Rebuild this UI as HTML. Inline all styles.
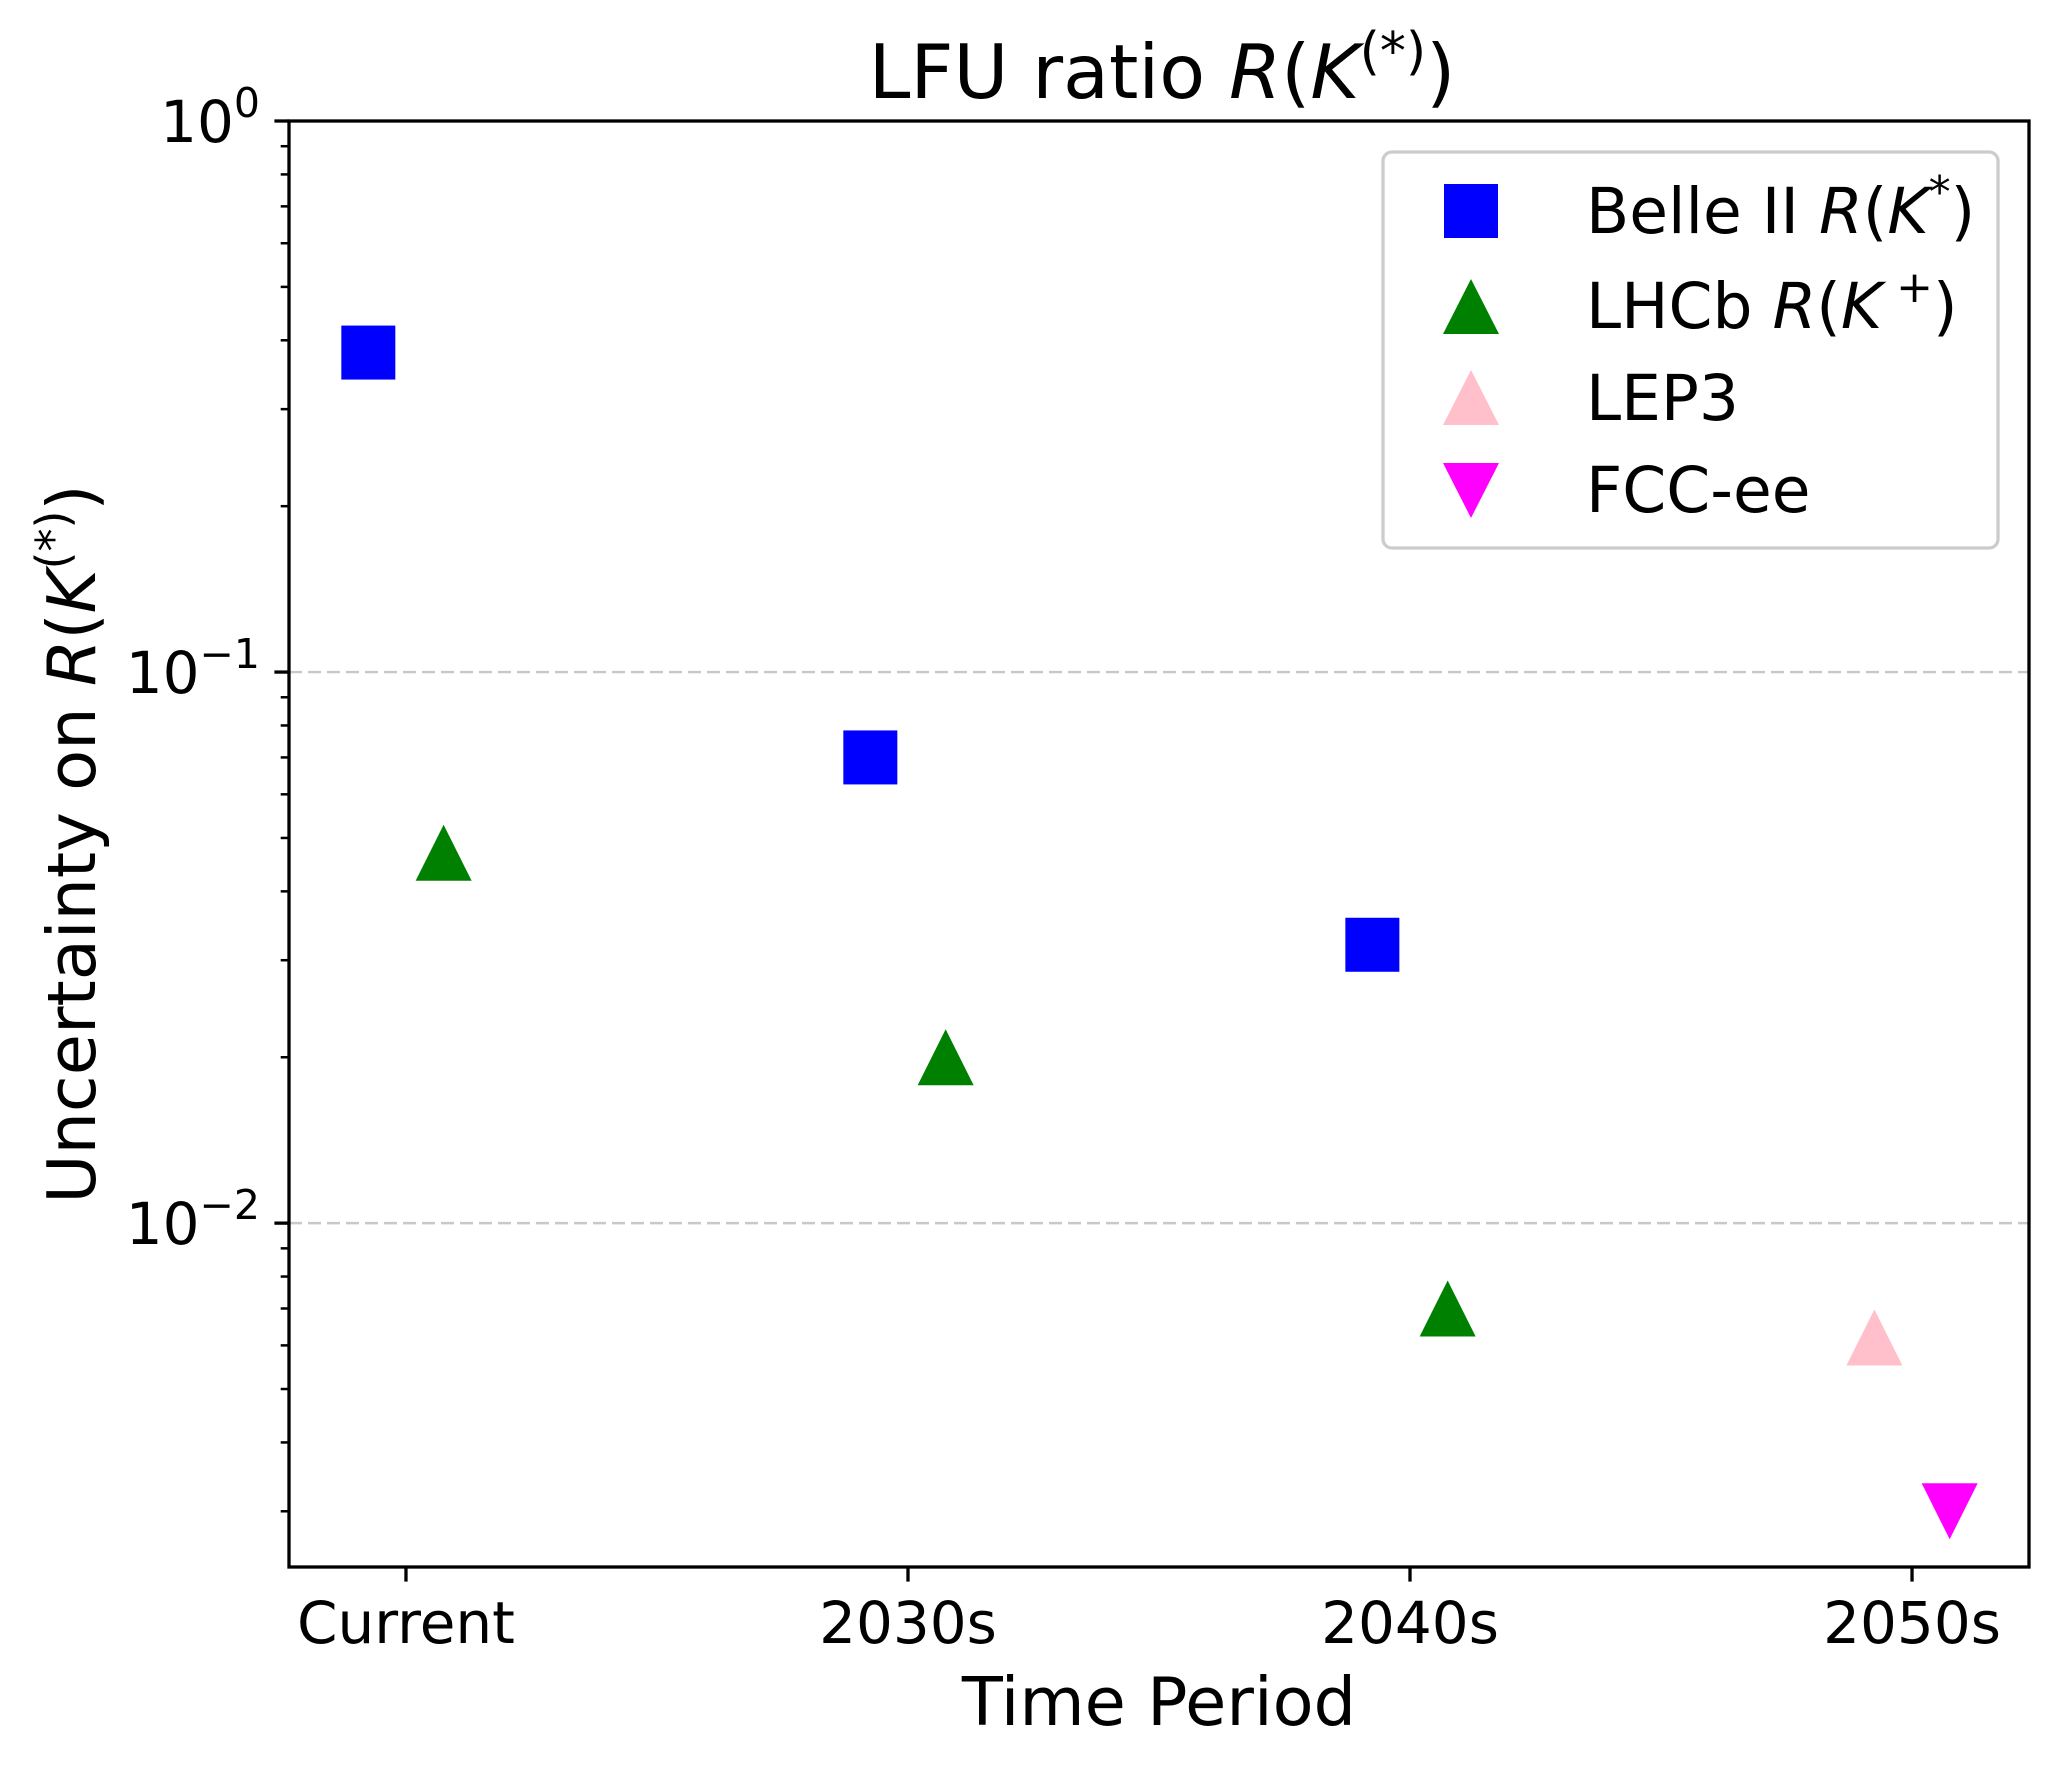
<!DOCTYPE html>
<html><head><meta charset="utf-8"><style>
html,body{margin:0;padding:0;background:#fff;}
svg{display:block;font-family:"DejaVu Sans","Liberation Sans",sans-serif;}
</style></head><body>
<svg id="chart" width="2058" height="1766" viewBox="0 0 2058 1766" xmlns="http://www.w3.org/2000/svg">
<rect x="0" y="0" width="2058" height="1766" fill="#fff"/>
<text x="1162" y="98" font-size="75" text-anchor="middle">LFU ratio <tspan font-style="italic">R</tspan>(<tspan font-style="italic">K</tspan><tspan font-size="52" dy="-29">(*)</tspan><tspan dy="29">)</tspan></text>
<g id="grid"></g>
<g id="marks"></g>
<rect x="289" y="121" width="1740" height="1446" fill="none" stroke="#000" stroke-width="3.3"/>
<g id="ticks"></g>
<text x="1159" y="1725" font-size="67" text-anchor="middle">Time Period</text>
<text transform="translate(95,844) rotate(-90)" font-size="67" text-anchor="middle">Uncertainty on <tspan font-style="italic">R</tspan>(<tspan font-style="italic">K</tspan><tspan font-size="46" dy="-26">(*)</tspan><tspan dy="26">)</tspan></text>
<g>
<rect x="1383" y="152" width="615" height="396" rx="9" fill="#fff" fill-opacity="0.8" stroke="#cccccc" stroke-width="3.3"/>
<rect x="1444" y="184" width="54" height="54" fill="#0000ff"/>
<text x="1586" y="233" font-size="63">Belle II <tspan font-style="italic">R</tspan>(<tspan font-style="italic">K</tspan><tspan font-size="44" dy="-26">*</tspan><tspan dy="26">)</tspan></text>
<polygon points="1471,279 1499,334 1443,334" fill="#008000"/>
<text x="1586" y="328" font-size="63">LHCb <tspan font-style="italic">R</tspan>(<tspan font-style="italic">K</tspan><tspan font-size="44" dy="-26"> +</tspan><tspan dy="26">)</tspan></text>
<polygon points="1471,370 1499,425 1443,425" fill="#ffc0cb"/>
<text x="1586" y="420" font-size="63">LEP3</text>
<polygon points="1443,463 1499,463 1471,518" fill="#ff00ff"/>
<text x="1586" y="512" font-size="63">FCC-ee</text>
</g>
</svg>
<script>
const categories = ["Current", "2030s", "2040s", "2050s"];
const belleValues = [0.38, 0.070, 0.032, null];
const lhcbValues = [0.047, 0.020, 0.007, null];
const lep3Values = [null, null, null, 0.0062];
const fccValues = [null, null, null, 0.003];
const yTickExponents = ["0", "\u22121", "\u22122"];

const NS = "http://www.w3.org/2000/svg";
const L = 289, R = 2029, T = 121, B = 1567;
const xmin = -0.233, xmax = 3.233;
const ymaxLog = 0, yminLog = -2.624;
function xs(v){ return L + (v - xmin) / (xmax - xmin) * (R - L); }
function ys(v){ return T + (ymaxLog - Math.log10(v)) / (ymaxLog - yminLog) * (B - T); }
function mk(tag, attrs, parent){ const e = document.createElementNS(NS, tag); for (const k in attrs) e.setAttribute(k, attrs[k]); parent.appendChild(e); return e; }

const grid = document.getElementById('grid');
const ticks = document.getElementById('ticks');
const marks = document.getElementById('marks');

for (let i = 0; i < yTickExponents.length; i++) {
  const v = Math.pow(10, -i);
  const y = ys(v);
  if (i > 0) {
    const g = mk('line', {x1: L, x2: R, y1: y, y2: y, stroke: '#c8c8c8', 'stroke-width': 2.4, 'stroke-dasharray': '13 6'}, grid);
    
    
  }
  const t = mk('line', {x1: L - 14.6, x2: L, y1: y, y2: y, stroke: '#000', 'stroke-width': 3.3}, ticks);
  
  
  const lab = mk('text', {x: L - 29, y: y + 21, 'font-size': 58, 'text-anchor': 'end'}, ticks);
  
  
  const base = document.createElementNS(NS, 'tspan'); base.textContent = '10'; lab.appendChild(base);
  const sup = document.createElementNS(NS, 'tspan'); sup.setAttribute('font-size', 41); sup.setAttribute('dy', -25); sup.textContent = yTickExponents[i]; lab.appendChild(sup);
}
for (let d = -3; d <= 0; d++) {
  for (let m = 2; m <= 9; m++) {
    const v = m * Math.pow(10, d);
    if (Math.log10(v) < yminLog || Math.log10(v) > ymaxLog) continue;
    const y = ys(v);
    const t = mk('line', {x1: L - 8.3, x2: L, y1: y, y2: y, stroke: '#000', 'stroke-width': 2.5}, ticks);
    
    
  }
}
categories.forEach((c, i) => {
  const x = xs(i);
  const t = mk('line', {x1: x, x2: x, y1: B, y2: B + 14.6, stroke: '#000', 'stroke-width': 3.3}, ticks);
  
  
  const lab = mk('text', {x: x, y: 1643, 'font-size': 58, 'text-anchor': 'middle'}, ticks);
  lab.textContent = c;
  
  
});

const S = 54, TR = 56;
function square(i, v, off, color, name){
  const cx = xs(i + off), cy = ys(v);
  const e = mk('rect', {x: cx - S/2, y: cy - S/2, width: S, height: S, fill: color}, marks);
  
  
}
function tri(i, v, off, color, name, down){
  const cx = xs(i + off), cy = ys(v), h = TR/2;
  const pts = down ? `${cx-h},${cy-h} ${cx+h},${cy-h} ${cx},${cy+h}` : `${cx},${cy-h} ${cx+h},${cy+h} ${cx-h},${cy+h}`;
  const e = mk('polygon', {points: pts, fill: color}, marks);
  
  
}
belleValues.forEach((v, i) => { if (v != null) square(i, v, -0.075, '#0000ff', 'belle-point'); });
lhcbValues.forEach((v, i) => { if (v != null) tri(i, v, 0.075, '#008000', 'lhcb-point', false); });
lep3Values.forEach((v, i) => { if (v != null) tri(i, v, -0.075, '#ffc0cb', 'lep3-point', false); });
fccValues.forEach((v, i) => { if (v != null) tri(i, v, 0.075, '#ff00ff', 'fcc-ee-point', true); });
</script>
</body></html>
